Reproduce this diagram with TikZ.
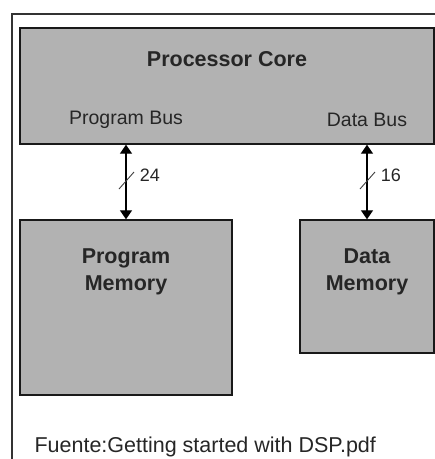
\documentclass[tikz,border=0pt]{standalone}
\usepackage{fontspec}
\setmainfont{Liberation Sans}
\usetikzlibrary{arrows.meta,calc}
\definecolor{boxgray}{RGB}{178,178,178}

\tikzset{
  block/.style={draw=black!90,line width=1.4pt,fill=boxgray,inner sep=0pt},
  title/.style={font=\fontsize{21.5}{27}\selectfont\bfseries,text=black!85,align=center},
  buslabel/.style={font=\fontsize{19.5}{22}\selectfont,text=black!85},
  width/.style={font=\fontsize{18}{20}\selectfont,text=black!85},
  bus/.style={{Triangle[length=9pt,width=12pt]}-{Triangle[length=9pt,width=12pt]},line width=1.3pt}
}

\begin{document}
\begin{tikzpicture}[x=1pt,y=-1pt]
\useasboundingbox (0,0) rectangle (435,459);
% frame of the page
\draw[black!80,line width=1.4pt] (12,460) -- (12,14) -- (436,14);
% blocks
\node[block,minimum width=414pt,minimum height=116pt] (core) at (227,86) {};
\node[block,minimum width=212pt,minimum height=175pt] (pm) at (126,307.5) {};
\node[block,minimum width=134pt,minimum height=133pt] (dm) at (367,286.5) {};
% texts
\node[title] (coret) at (227,59) {Processor Core};
\node[buslabel] (pbus) at (126,120) {Program Bus};
\node[buslabel] (dbus) at (367,120) {Data Bus};
\node[title] (pmt) at (126,272) {Program\\Memory};
\node[title] (dmt) at (367,272) {Data\\Memory};
% buses
\draw[bus] (pm.north |- core.south) -- (pm.north);
\draw[bus] (dm.north |- core.south) -- (dm.north);
\draw[line width=0.9pt,black!75] (119,189) -- (134,172);
\draw[line width=0.9pt,black!75] (360,189) -- (375,172);
\node[width] (w24) at (150,175) {24};
\node[width] (w16) at (391,175) {16};
% source
\node[buslabel,font=\fontsize{21.5}{24}\selectfont,anchor=west] (src) at (31,447) {Fuente:Getting started with DSP.pdf};
\end{tikzpicture}
\end{document}
